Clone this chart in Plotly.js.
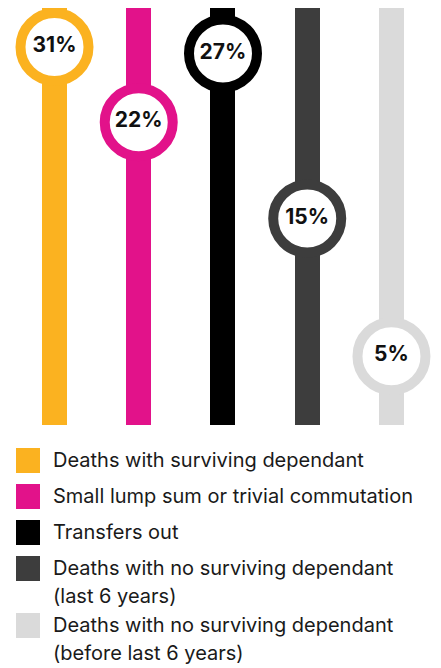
<!DOCTYPE html>
<html>
<head>
<meta charset="utf-8">
<script src="https://cdn.plot.ly/plotly-3.0.1.min.js"></script>
<style>
  html, body { margin: 0; padding: 0; background: #ffffff; }
  #chart { width: 441px; height: 668px; }
</style>
</head>
<body>
<div id="chart"></div>
<script>
// ---- Data ----
const categories = [
  "Deaths with surviving dependant",
  "Small lump sum or trivial commutation",
  "Transfers out",
  "Deaths with no surviving dependant<br>(last 6 years)",
  "Deaths with no surviving dependant<br>(before last 6 years)"
];
const values = [31, 22, 27, 15, 5];
const valueLabels = ["31%", "22%", "27%", "15%", "5%"];
const colors = ["#FBB220", "#E2128A", "#000000", "#3D3D3D", "#DADADA"];

// ---- Layout constants ----
const W = 441, H = 668;
const mTop = 8, mBottom = 243;
const plotH = H - mTop - mBottom;       // 417 px
const yTop = 30.3;                       // track length in % units
const pxPerUnit = plotH / yTop;
const outerRadiusPx = 39;
const radiusUnits = outerRadiusPx / pxPerUnit;
const xs = categories.map((_, i) => i);
// circles cannot extend past the top of the track
const circleY = values.map(v => Math.min(v, yTop - radiusUnits));

const bars = {
  type: 'bar',
  x: xs,
  y: xs.map(() => yTop),
  width: 0.297,
  marker: { color: colors, line: { width: 0 } },
  hoverinfo: 'skip',
  showlegend: false
};

const rings = {
  type: 'scatter',
  mode: 'markers+text',
  x: xs,
  y: circleY,
  text: valueLabels,
  textposition: 'middle center',
  textfont: { family: 'Inter, Roboto, sans-serif', size: 21, color: '#111111', weight: 700 },
  marker: { size: 68, color: '#ffffff', line: { width: 10, color: colors } },
  cliponaxis: false,
  hoverinfo: 'skip',
  showlegend: false
};

// Legend (drawn manually with large swatches)
const rowTops = [448, 484, 520, 556, 613];
const swatchSize = 25;
const lineGap = 28;
const toPaperY = py => (H - mBottom - py) / plotH;
const shapes = [];
const annotations = [];
categories.forEach((c, i) => {
  const top = rowTops[i];
  shapes.push({
    type: 'rect', xref: 'paper', yref: 'paper',
    x0: 16 / W, x1: 40 / W,
    y0: toPaperY(top + swatchSize), y1: toPaperY(top),
    fillcolor: colors[i], line: { width: 0 }
  });
  c.split('<br>').forEach((line, j) => {
    const centerPy = top + 12 + j * lineGap;
    annotations.push({
      xref: 'paper', yref: 'paper',
      x: 51 / W, y: toPaperY(centerPy),
      xanchor: 'left', yanchor: 'middle', align: 'left',
      text: line, showarrow: false,
      font: { family: 'Inter, Roboto, sans-serif', size: 20, color: '#1a1a1a' }
    });
  });
});

const layout = {
  width: W, height: H,
  margin: { l: 0, r: 0, t: mTop, b: mBottom, pad: 0 },
  paper_bgcolor: '#ffffff',
  plot_bgcolor: '#ffffff',
  showlegend: false,
  xaxis: { range: [-0.647, 4.588], visible: false, fixedrange: true },
  yaxis: { range: [0, yTop], visible: false, fixedrange: true },
  shapes: shapes,
  annotations: annotations,
  bargap: 0
};

Plotly.newPlot('chart', [bars, rings], layout, { displayModeBar: false, staticPlot: true });
</script>
</body>
</html>
